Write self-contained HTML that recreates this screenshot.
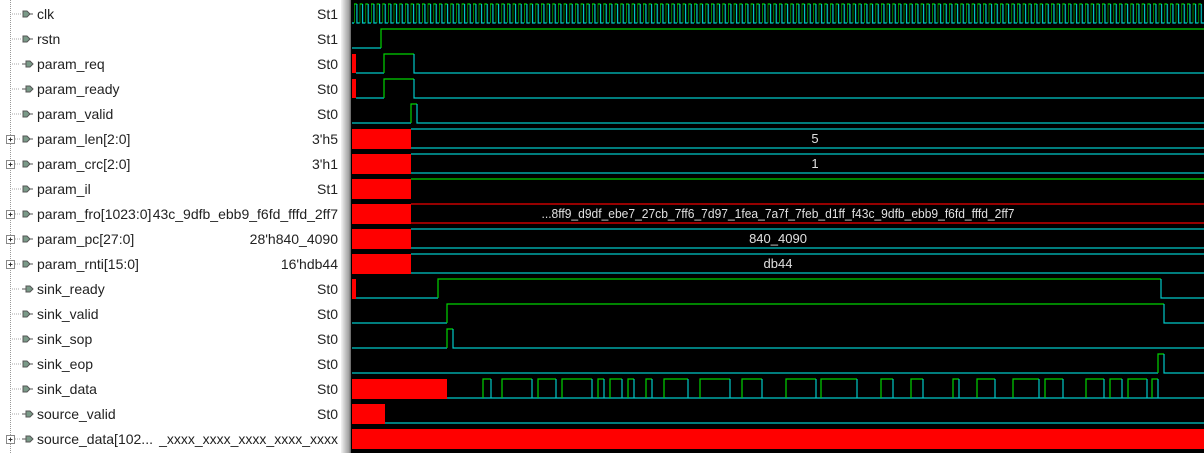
<!DOCTYPE html>
<html><head><meta charset="utf-8"><style>
html,body{margin:0;padding:0;background:#fff;}
svg{display:block;}
text{font-family:"Liberation Sans",sans-serif;}
</style></head><body>
<svg width="1204" height="453" viewBox="0 0 1204 453" xmlns="http://www.w3.org/2000/svg">
<defs>
<pattern id="clk" patternUnits="userSpaceOnUse" x="354" y="0" width="5.667" height="30">
<path d="M0,23 V4 H2.9" fill="none" stroke="#00d400" stroke-width="1.2"/>
<path d="M2.9,4 V23 H5.667" fill="none" stroke="#00c8c8" stroke-width="1.2"/>
</pattern>
<linearGradient id="div" x1="0" x2="1" y1="0" y2="0">
<stop offset="0" stop-color="#f4f4f4"/><stop offset="0.4" stop-color="#c8c8c8"/><stop offset="0.8" stop-color="#a0a0a0"/><stop offset="1" stop-color="#606060"/>
</linearGradient>
</defs>
<rect x="0" y="0" width="341" height="453" fill="#fff"/>
<rect x="341" y="0" width="10" height="453" fill="url(#div)"/>
<rect x="351" y="0" width="853" height="453" fill="#000"/>

<line x1="10.5" y1="0" x2="10.5" y2="453" stroke="#999" stroke-dasharray="1,1"/>

<g font-size="14" fill="#222">
<text x="37" y="19">clk</text>
<text x="37" y="44">rstn</text>
<text x="37" y="69">param_req</text>
<text x="37" y="94">param_ready</text>
<text x="37" y="119">param_valid</text>
<text x="37" y="144">param_len[2:0]</text>
<text x="37" y="169">param_crc[2:0]</text>
<text x="37" y="194">param_il</text>
<text x="37" y="219">param_fro[1023:0]</text>
<text x="37" y="244">param_pc[27:0]</text>
<text x="37" y="269">param_rnti[15:0]</text>
<text x="37" y="294">sink_ready</text>
<text x="37" y="319">sink_valid</text>
<text x="37" y="344">sink_sop</text>
<text x="37" y="369">sink_eop</text>
<text x="37" y="394">sink_data</text>
<text x="37" y="419">source_valid</text>
<text x="37" y="444">source_data[102...</text>
</g>
<g font-size="14" fill="#222" text-anchor="end">
<text x="338" y="19">St1</text>
<text x="338" y="44">St1</text>
<text x="338" y="69">St0</text>
<text x="338" y="94">St0</text>
<text x="338" y="119">St0</text>
<text x="338" y="144">3'h5</text>
<text x="338" y="169">3'h1</text>
<text x="338" y="194">St1</text>
<text x="338" y="219">43c_9dfb_ebb9_f6fd_fffd_2ff7</text>
<text x="338" y="244">28'h840_4090</text>
<text x="338" y="269">16'hdb44</text>
<text x="338" y="294">St0</text>
<text x="338" y="319">St0</text>
<text x="338" y="344">St0</text>
<text x="338" y="369">St0</text>
<text x="338" y="394">St0</text>
<text x="338" y="419">St0</text>
<text x="338" y="444">_xxxx_xxxx_xxxx_xxxx_xxxx</text>
</g>

<g stroke="#555" fill="#7a9a88" stroke-width="1">
<path d="M12,14 H21" stroke="#aaa" stroke-dasharray="1,1"/><path d="M23,11 h4 l3,3 l-3,3 h-4z"/><path d="M30,14 h3"/>
<path d="M12,39 H21" stroke="#aaa" stroke-dasharray="1,1"/><path d="M23,36 h4 l3,3 l-3,3 h-4z"/><path d="M30,39 h3"/>
<path d="M12,64 H20" stroke="#aaa" stroke-dasharray="1,1"/><path d="M22,64 h4"/><path d="M26,61 h4 l3,3 l-3,3 h-4z"/>
<path d="M12,89 H20" stroke="#aaa" stroke-dasharray="1,1"/><path d="M22,89 h4"/><path d="M26,86 h4 l3,3 l-3,3 h-4z"/>
<path d="M12,114 H21" stroke="#aaa" stroke-dasharray="1,1"/><path d="M23,111 h4 l3,3 l-3,3 h-4z"/><path d="M30,114 h3"/>
<path d="M15,139 H21" stroke="#aaa" stroke-dasharray="1,1"/><path d="M23,136 h4 l3,3 l-3,3 h-4z"/><path d="M30,139 h3"/>
<path d="M15,164 H21" stroke="#aaa" stroke-dasharray="1,1"/><path d="M23,161 h4 l3,3 l-3,3 h-4z"/><path d="M30,164 h3"/>
<path d="M12,189 H21" stroke="#aaa" stroke-dasharray="1,1"/><path d="M23,186 h4 l3,3 l-3,3 h-4z"/><path d="M30,189 h3"/>
<path d="M15,214 H21" stroke="#aaa" stroke-dasharray="1,1"/><path d="M23,211 h4 l3,3 l-3,3 h-4z"/><path d="M30,214 h3"/>
<path d="M15,239 H21" stroke="#aaa" stroke-dasharray="1,1"/><path d="M23,236 h4 l3,3 l-3,3 h-4z"/><path d="M30,239 h3"/>
<path d="M15,264 H21" stroke="#aaa" stroke-dasharray="1,1"/><path d="M23,261 h4 l3,3 l-3,3 h-4z"/><path d="M30,264 h3"/>
<path d="M12,289 H20" stroke="#aaa" stroke-dasharray="1,1"/><path d="M22,289 h4"/><path d="M26,286 h4 l3,3 l-3,3 h-4z"/>
<path d="M12,314 H21" stroke="#aaa" stroke-dasharray="1,1"/><path d="M23,311 h4 l3,3 l-3,3 h-4z"/><path d="M30,314 h3"/>
<path d="M12,339 H21" stroke="#aaa" stroke-dasharray="1,1"/><path d="M23,336 h4 l3,3 l-3,3 h-4z"/><path d="M30,339 h3"/>
<path d="M12,364 H21" stroke="#aaa" stroke-dasharray="1,1"/><path d="M23,361 h4 l3,3 l-3,3 h-4z"/><path d="M30,364 h3"/>
<path d="M12,389 H21" stroke="#aaa" stroke-dasharray="1,1"/><path d="M23,386 h4 l3,3 l-3,3 h-4z"/><path d="M30,389 h3"/>
<path d="M12,414 H20" stroke="#aaa" stroke-dasharray="1,1"/><path d="M22,414 h4"/><path d="M26,411 h4 l3,3 l-3,3 h-4z"/>
<path d="M15,439 H20" stroke="#aaa" stroke-dasharray="1,1"/><path d="M22,439 h4"/><path d="M26,436 h4 l3,3 l-3,3 h-4z"/>
</g>
<g fill="#fff" stroke="#888">
<rect x="6.5" y="135.5" width="8" height="8"/><rect x="6.5" y="160.5" width="8" height="8"/>
<rect x="6.5" y="210.5" width="8" height="8"/><rect x="6.5" y="235.5" width="8" height="8"/>
<rect x="6.5" y="260.5" width="8" height="8"/><rect x="6.5" y="435.5" width="8" height="8"/>
</g>
<g stroke="#333">
<path d="M8.5,139.5h4M10.5,137.5v4"/><path d="M8.5,164.5h4M10.5,162.5v4"/>
<path d="M8.5,214.5h4M10.5,212.5v4"/><path d="M8.5,239.5h4M10.5,237.5v4"/>
<path d="M8.5,264.5h4M10.5,262.5v4"/><path d="M8.5,439.5h4M10.5,437.5v4"/>
</g>

<rect x="352" y="0" width="852" height="28" fill="url(#clk)"/>
<path d="M352,23 H354" stroke="#00c8c8" stroke-width="1.2"/>
<g fill="none" stroke-width="1.2">
<path d="M352,48 H381" stroke="#00c8c8"/><path d="M381,48 V29 H1204" stroke="#00d400"/>
<rect x="352" y="54" width="4" height="19" fill="#f00" stroke="none"/>
<path d="M356,73 H384" stroke="#00c8c8"/><path d="M384,73 V54 H414" stroke="#00d400"/><path d="M414,54 V73 H1204" stroke="#00c8c8"/>
<rect x="352" y="79" width="4" height="19" fill="#f00" stroke="none"/>
<path d="M356,98 H384" stroke="#00c8c8"/><path d="M384,98 V79 H414" stroke="#00d400"/><path d="M414,79 V98 H1204" stroke="#00c8c8"/>
<path d="M352,123 H411" stroke="#00c8c8"/><path d="M411,123 V104 H417" stroke="#00d400"/><path d="M417,104 V123 H1204" stroke="#00c8c8"/>
<path d="M411,129 H1204 M411,148 H1204" stroke="#00c8c8"/>
<path d="M411,154 H1204 M411,173 H1204" stroke="#00c8c8"/>
<path d="M411,179 H1204" stroke="#00d400"/>
<path d="M411,204 H1204 M411,223 H1204" stroke="#f00000"/>
<path d="M411,229 H1204 M411,248 H1204" stroke="#00c8c8"/>
<path d="M411,254 H1204 M411,273 H1204" stroke="#00c8c8"/>
<path d="M356,298 H438" stroke="#00c8c8"/><path d="M438,298 V279 H1161" stroke="#00d400"/><path d="M1161,279 V298 H1204" stroke="#00c8c8"/>
<path d="M352,323 H447" stroke="#00c8c8"/><path d="M447,323 V304 H1164" stroke="#00d400"/><path d="M1164,304 V323 H1204" stroke="#00c8c8"/>
<path d="M352,348 H447" stroke="#00c8c8"/><path d="M447,348 V329 H453" stroke="#00d400"/><path d="M453,329 V348 H1204" stroke="#00c8c8"/>
<path d="M352,373 H1158" stroke="#00c8c8"/><path d="M1158,373 V354 H1164" stroke="#00d400"/><path d="M1164,354 V373 H1204" stroke="#00c8c8"/>
<path d="M447,398 H1204" stroke="#00c8c8"/>
<path stroke="#00d400" d="M483,398V379H491 M502,398V379H532 M538,398V379H556 M562,398V379H592 M598,398V379H604 M610,398V379H622 M628,398V379H634 M646,398V379H652 M664,398V379H688 M700,398V379H730 M742,398V379H762 M786,398V379H816 M821,398V379H857 M881,398V379H893 M911,398V379H923 M953,398V379H959 M977,398V379H995 M1013,398V379H1039 M1045,398V379H1063 M1086,398V379H1104 M1110,398V379H1122 M1128,398V379H1147 M1152,398V379H1158"/>
<path stroke="#00c8c8" d="M491,379V398 M532,379V398 M556,379V398 M592,379V398 M604,379V398 M622,379V398 M634,379V398 M652,379V398 M688,379V398 M730,379V398 M762,379V398 M816,379V398 M857,379V398 M893,379V398 M923,379V398 M959,379V398 M995,379V398 M1039,379V398 M1063,379V398 M1104,379V398 M1122,379V398 M1147,379V398 M1158,379V398"/>
<path d="M385,423 H1204" stroke="#00c8c8"/>
</g>
<g fill="#f00">
<rect x="352" y="129" width="59" height="20"/>
<rect x="352" y="154" width="59" height="20"/>
<rect x="352" y="179" width="59" height="20"/>
<rect x="352" y="204" width="59" height="20"/>
<rect x="352" y="229" width="59" height="20"/>
<rect x="352" y="254" width="59" height="20"/>
<rect x="352" y="279" width="4" height="20"/>
<rect x="352" y="379" width="95" height="20"/>
<rect x="352" y="404" width="33" height="20"/>
<rect x="352" y="429" width="852" height="20"/>
</g>
<g font-size="13" fill="#e0e0e0" text-anchor="middle">
<text x="815" y="143">5</text>
<text x="815" y="168">1</text>
<text x="778" y="218" textLength="473" lengthAdjust="spacingAndGlyphs">...8ff9_d9df_ebe7_27cb_7ff6_7d97_1fea_7a7f_7feb_d1ff_f43c_9dfb_ebb9_f6fd_fffd_2ff7</text>
<text x="778" y="243">840_4090</text>
<text x="778" y="268">db44</text>
</g>
</svg>
</body></html>
